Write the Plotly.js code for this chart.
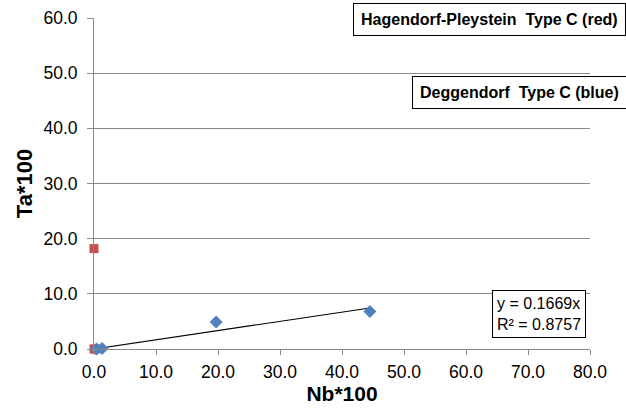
<!DOCTYPE html>
<html>
<head>
<meta charset="utf-8">
<script src="https://cdn.plot.ly/plotly-3.0.1.min.js"></script>
<style>
  html, body { margin: 0; padding: 0; background: #fff; }
  #chart { width: 626px; height: 412px; }
</style>
</head>
<body>
<div id="chart"></div>
<script>
// Hagendorf-Pleystein Type C samples (red)
const hpNb = [0.0, 0.2, 0.0];
const hpTa = [18.2, 0.0, 0.0];

// Deggendorf Type C samples (blue)
const dgNb = [0.4, 1.3, 19.7, 44.5];
const dgTa = [0.0, 0.1, 4.9, 6.8];

// Linear fit through the origin for the Deggendorf samples
const fitSlope = 0.1669;
const fitR2 = 0.8757;

const fitX = [0, Math.max(...dgNb)];
const fitY = fitX.map(v => fitSlope * v);

const xTicks = [0, 10, 20, 30, 40, 50, 60, 70, 80];
const yTicks = [0, 10, 20, 30, 40, 50, 60];

const gridColor = '#8a8a8a';
const font = "'Liberation Sans', Arial, Helvetica, sans-serif";

const traces = [
  {
    x: hpNb, y: hpTa, type: 'scatter', mode: 'markers',
    marker: { symbol: 'square', size: 9, color: '#c0504d' },
    cliponaxis: false, hoverinfo: 'skip'
  },
  {
    x: fitX, y: fitY, type: 'scatter', mode: 'lines',
    line: { color: '#000', width: 1.2 },
    cliponaxis: false, hoverinfo: 'skip'
  },
  {
    x: dgNb, y: dgTa, type: 'scatter', mode: 'markers',
    marker: { symbol: 'diamond', size: 10, color: '#4f81bd' },
    cliponaxis: false, hoverinfo: 'skip'
  }
];

const layout = {
  width: 626, height: 412,
  margin: { l: 94, r: 36, t: 18, b: 63 },
  paper_bgcolor: '#fff', plot_bgcolor: '#fff',
  showlegend: false,
  font: { family: font, size: 17.5, color: '#000' },
  xaxis: {
    range: [0, 80], tickvals: xTicks, tickformat: '.1f',
    showgrid: false, zeroline: false,
    showline: true, linecolor: gridColor, linewidth: 1,
    ticks: 'outside', ticklen: 5, tickcolor: gridColor,
    ticklabelstandoff: 2,
    tickfont: { size: 17.5 },
    title: { text: '<b>Nb*100</b>', font: { size: 21 }, standoff: 4 }
  },
  yaxis: {
    range: [0, 60], tickvals: yTicks, tickformat: '.1f',
    showgrid: true, gridcolor: gridColor, gridwidth: 1,
    zeroline: false,
    showline: true, linecolor: gridColor, linewidth: 1,
    ticks: 'outside', ticklen: 6, tickcolor: gridColor,
    ticklabelstandoff: 6,
    tickfont: { size: 17.5 },
    title: { text: '<b>Ta*100</b>', font: { size: 22 }, standoff: 4 }
  },
  annotations: [
    {
      xref: 'paper', yref: 'paper', x: 0.798, y: 0.994,
      xanchor: 'center', yanchor: 'middle', showarrow: false,
      text: '<b>Hagendorf-Pleystein  Type C (red)</b>',
      font: { size: 16 }, bgcolor: '#fff',
      bordercolor: '#000', borderwidth: 1, borderpad: 7
    },
    {
      xref: 'paper', yref: 'paper', x: 0.857, y: 0.774,
      xanchor: 'center', yanchor: 'middle', showarrow: false,
      text: '<b>Deggendorf  Type C (blue)</b>',
      font: { size: 16 }, bgcolor: '#fff',
      bordercolor: '#000', borderwidth: 1, borderpad: 7
    },
    {
      xref: 'paper', yref: 'paper', x: 0.897, y: 0.106,
      xanchor: 'center', yanchor: 'middle', showarrow: false, align: 'left',
      text: 'y = ' + fitSlope.toFixed(4) + 'x<br>R² = ' + fitR2.toFixed(4),
      font: { size: 16 }, bgcolor: '#fff',
      bordercolor: '#000', borderwidth: 1, borderpad: 4
    }
  ]
};

Plotly.newPlot('chart', traces, layout, { displayModeBar: false, staticPlot: true });
</script>
</body>
</html>
